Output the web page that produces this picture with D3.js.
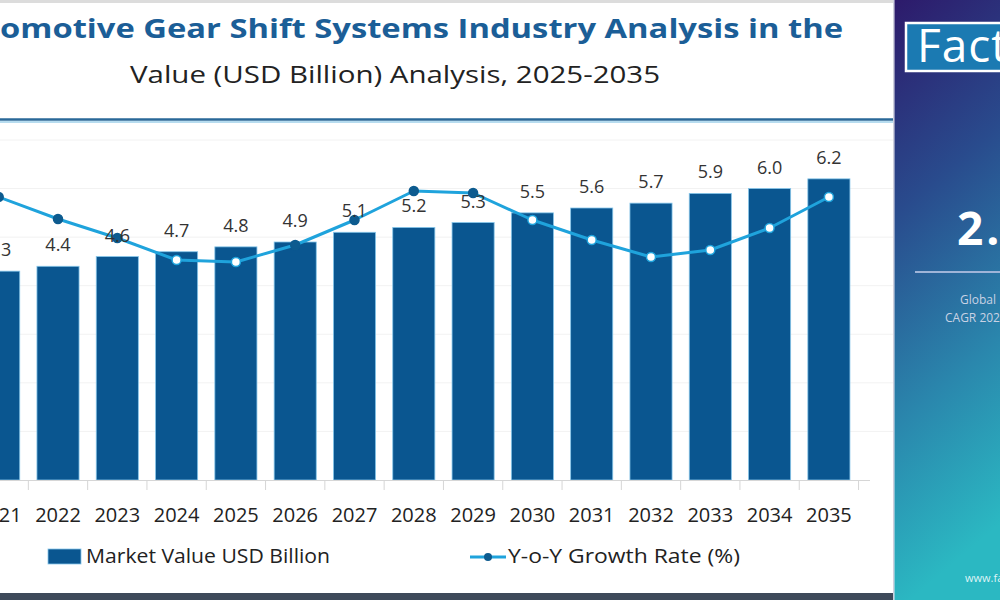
<!DOCTYPE html>
<html>
<head>
<meta charset="utf-8">
<script src="https://cdn.jsdelivr.net/npm/d3@7"></script>
<style>
  html, body { margin: 0; padding: 0; background: #fff; }
  svg { display: block; }
</style>
</head>
<body>
<svg id="chart" width="1000" height="600"></svg>
<script>
// ---- data ----
const years = ["2021","2022","2023","2024","2025","2026","2027","2028","2029","2030","2031","2032","2033","2034","2035"];
const marketValue = [4.3, 4.4, 4.6, 4.7, 4.8, 4.9, 5.1, 5.2, 5.3, 5.5, 5.6, 5.7, 5.9, 6.0, 6.2];
const yoyGrowth = [2.93, 2.71, 2.52, 2.30, 2.28, 2.45, 2.70, 2.99, 2.97, 2.70, 2.50, 2.33, 2.40, 2.62, 2.93];
const hollowYears = ["2024","2025","2030","2031","2032","2033","2034","2035"];
const valueTicks = [1, 2, 3, 4, 5, 6, 7];
const titleText = "Automotive Gear Shift Systems Industry Analysis in the";
const subtitleText = "Value (USD Billion) Analysis, 2025-2035";
const legendBar = "Market Value USD Billion";
const legendLine = "Y-o-Y Growth Rate (%)";

const FONT = "'Open Sans', 'DejaVu Sans', sans-serif";
const BAR = "#0a5690";
const LINE = "#1fa3dc";
const DOT = "#0d5b8f";

const svg = d3.select("#chart");

// ---- defs ----
const defs = svg.append("defs");
const g1 = defs.append("linearGradient").attr("id", "panelGrad")
  .attr("x1", "0").attr("y1", "0").attr("x2", "0.15").attr("y2", "1");
g1.append("stop").attr("offset", "0%").attr("stop-color", "#2d1a6b");
g1.append("stop").attr("offset", "35%").attr("stop-color", "#294b8d");
g1.append("stop").attr("offset", "70%").attr("stop-color", "#2a87ad");
g1.append("stop").attr("offset", "100%").attr("stop-color", "#2bb8c2");

// ---- scales ----
const step = 59.3;
const x0 = -1.3 - step / 2;
const x = d3.scaleBand().domain(years)
  .range([x0, x0 + step * years.length])
  .paddingInner(0.29).paddingOuter(0.145);
const y = d3.scaleLinear().domain([0, 7]).range([480, 140]);
const yG = d3.scaleLinear().domain([1.5, 3.5]).range([340, 140]);

// ---- frame ----
svg.append("rect").attr("x", 0).attr("y", 0).attr("width", 893).attr("height", 3).attr("fill", "#dcdcdc");
svg.append("rect").attr("x", 0).attr("y", 593).attr("width", 893).attr("height", 7).attr("fill", "#3e4a5a");

// header line
svg.append("line").attr("x1", 0).attr("x2", 893).attr("y1", 122).attr("y2", 122)
  .attr("stroke", "#b7dcef").attr("stroke-width", 2);
svg.append("line").attr("x1", 0).attr("x2", 893).attr("y1", 119.5).attr("y2", 119.5)
  .attr("stroke", "#2a6898").attr("stroke-width", 2.5);

// ---- titles ----
const title = svg.append("text")
  .attr("y", 38)
  .attr("font-family", FONT).attr("font-weight", 700).attr("font-size", 27)
  .attr("fill", "#1b5e97")
  .text(titleText);
{
  const node = title.node();
  const total = node.getComputedTextLength();
  const pre = node.getSubStringLength(0, 3);
  const rest = total - pre;
  const s = 843 / rest;
  title.attr("textLength", total * s).attr("lengthAdjust", "spacingAndGlyphs")
    .attr("x", -pre * s);
}
svg.append("text")
  .attr("x", 130).attr("y", 83)
  .attr("font-family", FONT).attr("font-size", 24).attr("fill", "#222")
  .attr("textLength", 530).attr("lengthAdjust", "spacingAndGlyphs")
  .text(subtitleText);

// ---- gridlines ----
svg.append("g").selectAll("line").data(valueTicks).join("line")
  .attr("x1", 0).attr("x2", 893)
  .attr("y1", d => y(d)).attr("y2", d => y(d))
  .attr("stroke", "#f2f2f2").attr("stroke-width", 1);

// ---- bars ----
svg.append("g").selectAll("rect").data(years).join("rect")
  .attr("x", d => x(d))
  .attr("y", (d, i) => y(marketValue[i]))
  .attr("width", x.bandwidth())
  .attr("height", (d, i) => y(0) - y(marketValue[i]))
  .attr("fill", BAR)
  .attr("stroke", "#86c6ea").attr("stroke-width", 0.8);

// ---- x axis ----
const xAxis = svg.append("g");
xAxis.append("line").attr("x1", 0).attr("x2", 870).attr("y1", 480.5).attr("y2", 480.5)
  .attr("stroke", "#d6d6d6").attr("stroke-width", 1);
const boundaries = years.map(d => x(d) - x.step() * x.paddingInner() / 2).concat([x(years[years.length - 1]) + x.bandwidth() + x.step() * x.paddingInner() / 2]);
xAxis.selectAll("line.tick").data(boundaries).join("line").attr("class", "tick")
  .attr("x1", d => d).attr("x2", d => d).attr("y1", 481).attr("y2", 490)
  .attr("stroke", "#d6d6d6").attr("stroke-width", 1);
xAxis.selectAll("text").data(years).join("text")
  .attr("x", d => x(d) + x.bandwidth() / 2).attr("y", 522)
  .attr("text-anchor", "middle")
  .attr("font-family", FONT).attr("font-size", 20).attr("fill", "#222")
  .text(d => d);

// ---- growth line ----
const line = d3.line()
  .x((d, i) => x(years[i]) + x.bandwidth() / 2)
  .y(d => yG(d));
svg.append("path").datum(yoyGrowth)
  .attr("d", line).attr("fill", "none")
  .attr("stroke", LINE).attr("stroke-width", 3).attr("stroke-linejoin", "round");
svg.append("g").selectAll("circle").data(yoyGrowth).join("circle")
  .attr("cx", (d, i) => x(years[i]) + x.bandwidth() / 2)
  .attr("cy", d => yG(d))
  .attr("r", 4.5)
  .attr("fill", (d, i) => hollowYears.includes(years[i]) ? "#ffffff" : DOT)
  .attr("stroke", (d, i) => hollowYears.includes(years[i]) ? LINE : DOT)
  .attr("stroke-width", 1.5);

// ---- value labels ----
svg.append("g").selectAll("text").data(marketValue).join("text")
  .attr("x", (d, i) => x(years[i]) + x.bandwidth() / 2)
  .attr("y", d => y(d) - 15)
  .attr("text-anchor", "middle")
  .attr("font-family", FONT).attr("font-size", 18).attr("fill", "#333")
  .text(d => d.toFixed(1));

// ---- legend ----
svg.append("rect").attr("x", 48).attr("y", 549).attr("width", 33).attr("height", 15)
  .attr("fill", BAR).attr("stroke", "#86c6ea").attr("stroke-width", 0.8);
svg.append("text").attr("x", 86).attr("y", 563)
  .attr("font-family", FONT).attr("font-size", 20).attr("fill", "#222")
  .attr("textLength", 244).attr("lengthAdjust", "spacingAndGlyphs")
  .text(legendBar);
svg.append("line").attr("x1", 470).attr("x2", 506).attr("y1", 557).attr("y2", 557)
  .attr("stroke", LINE).attr("stroke-width", 3);
svg.append("circle").attr("cx", 488).attr("cy", 557).attr("r", 4).attr("fill", DOT);
svg.append("text").attr("x", 508).attr("y", 563)
  .attr("font-family", FONT).attr("font-size", 20).attr("fill", "#222")
  .attr("textLength", 232).attr("lengthAdjust", "spacingAndGlyphs")
  .text(legendLine);

// ---- right panel ----
svg.append("rect").attr("x", 893).attr("y", 0).attr("width", 1.5).attr("height", 600).attr("fill", "#cfd0de");
svg.append("rect").attr("x", 894.5).attr("y", 0).attr("width", 106).attr("height", 600).attr("fill", "url(#panelGrad)");
svg.append("rect").attr("x", 906).attr("y", 23).attr("width", 110).attr("height", 48)
  .attr("fill", "#1b7ab2").attr("stroke", "#ffffff").attr("stroke-width", 2.5);
svg.append("text").attr("x", 917).attr("y", 62)
  .attr("font-family", FONT).attr("font-size", 46).attr("fill", "#ffffff")
  .attr("letter-spacing", 1)
  .text("Fact.MR");
svg.append("text").attr("x", 957).attr("y", 245)
  .attr("font-family", FONT).attr("font-weight", 700).attr("font-size", 46).attr("fill", "#ffffff")
  .attr("letter-spacing", 3)
  .text("2.6%");
svg.append("line").attr("x1", 915).attr("x2", 1000).attr("y1", 272).attr("y2", 272)
  .attr("stroke", "#9fb4d8").attr("stroke-width", 2);
svg.append("text").attr("x", 960).attr("y", 304)
  .attr("font-family", FONT).attr("font-size", 12).attr("fill", "#c9d2e4")
  .text("Global Market");
svg.append("text").attr("x", 945).attr("y", 322)
  .attr("font-family", FONT).attr("font-size", 12).attr("fill", "#c9d2e4")
  .text("CAGR 2025-2035");
svg.append("text").attr("x", 965).attr("y", 582)
  .attr("font-family", FONT).attr("font-size", 11).attr("fill", "#dff4f6")
  .text("www.factmr.com");
</script>
</body>
</html>
